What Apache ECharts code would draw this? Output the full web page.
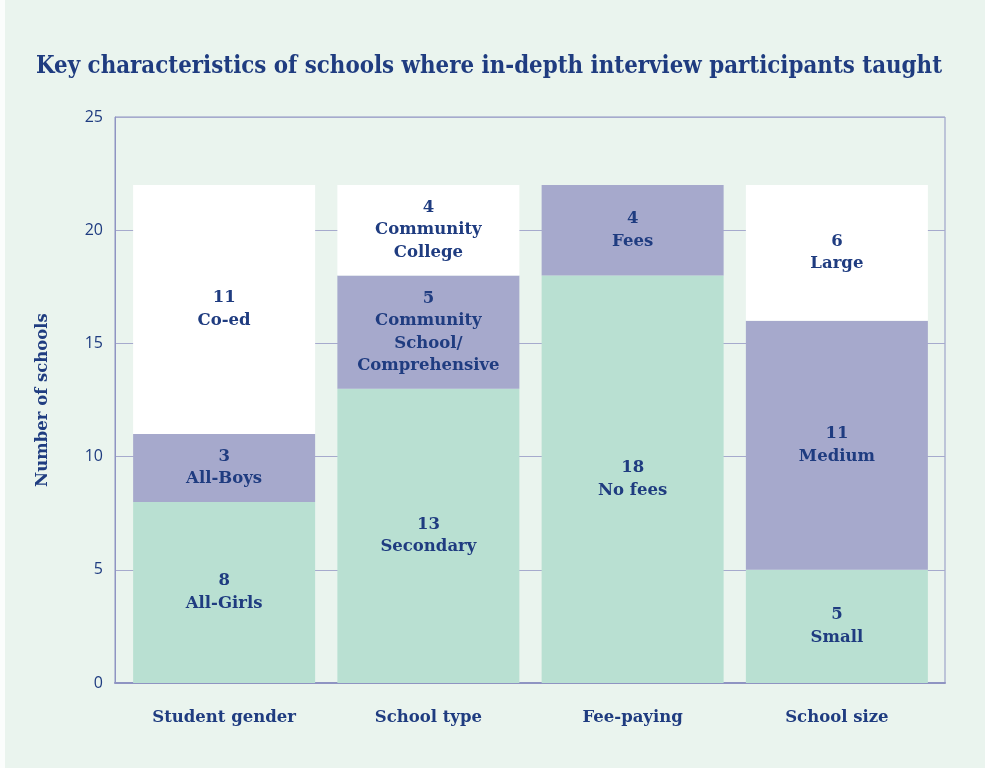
<!DOCTYPE html>
<html>
<head>
    <meta charset="utf-8"/>
    <title>Key characteristics of schools</title>
    <script src="https://cdn.jsdelivr.net/npm/echarts@6/dist/echarts.min.js"></script>
    <style>
        html, body { margin: 0; padding: 0; background: #fbfdfc; }
        #myChart { position: absolute; left: 5px; top: 0; width: 980px; height: 768px; background: #eaf4ee; }
    </style>
</head>
<body>
<div id="myChart"></div>
<script>
    // 数据
    var categories = ['Student gender', 'School type', 'Fee-paying', 'School size'];
    var bottomValues = [8, 13, 18, 5];
    var bottomNames = ['All-Girls', 'Secondary', 'No fees', 'Small'];
    var middleValues = [3, 5, 4, 11];
    var middleNames = ['All-Boys', 'Community\nSchool/\nComprehensive', 'Fees', 'Medium'];
    var topValues = [11, 4, null, 6];
    var topNames = ['Co-ed', 'Community\nCollege', '', 'Large'];
    var yTicks = [0, 5, 10, 15, 20, 25];

    var navy = '#1f3c80';
    var slab = '"DejaVu Serif", serif';
    var slabNarrow = '"DejaVu Serif Condensed", "DejaVu Serif", serif';
    var frameColor = '#8f94c2';

    var makeSeries = function (values, names, color) {
        return {
            type: 'bar',
            stack: 'total',
            xAxisIndex: 1,
            yAxisIndex: 1,
            barWidth: 182,
            itemStyle: { color: color },
            label: {
                show: true,
                position: 'inside',
                color: navy,
                fontFamily: slab,
                fontWeight: 'bold',
                fontSize: 16.5,
                lineHeight: 22.5,
                formatter: function (p) {
                    return p.value + '\n' + names[p.dataIndex];
                }
            },
            data: values
        };
    };

    var myChart = echarts.init(document.getElementById('myChart'));
    var option = {
        animation: false,
        title: {
            text: 'Key characteristics of schools where in-depth interview participants taught',
            left: 26,
            top: 50,
            textStyle: {
                color: navy,
                fontFamily: slabNarrow,
                fontWeight: 'bold',
                fontSize: 23.8
            }
        },
        // grid 0: 外框和网格线, grid 1: 柱子
        grid: [{
            left: 110,
            right: 40,
            top: 117,
            bottom: 85,
            show: true,
            borderColor: frameColor,
            borderWidth: 1
        }, {
            left: 117,
            right: 46,
            top: 117,
            bottom: 85
        }],
        xAxis: [{
            gridIndex: 0,
            type: 'value',
            min: 0,
            max: 1,
            axisLine: { show: true, lineStyle: { color: frameColor, width: 2 } },
            axisTick: { show: false },
            axisLabel: { show: false },
            splitLine: { show: false }
        }, {
            gridIndex: 1,
            type: 'category',
            data: categories,
            axisTick: { show: false },
            axisLine: { show: false },
            axisLabel: {
                margin: 26,
                color: navy,
                fontFamily: slab,
                fontWeight: 'bold',
                fontSize: 16.5
            }
        }],
        yAxis: [{
            gridIndex: 0,
            type: 'value',
            min: yTicks[0],
            max: yTicks[yTicks.length - 1],
            interval: 5,
            name: 'Number of schools',
            nameLocation: 'middle',
            nameGap: 64,
            nameTextStyle: {
                color: navy,
                fontFamily: slab,
                fontWeight: 'bold',
                fontSize: 16.5
            },
            axisLine: { show: true, lineStyle: { color: frameColor } },
            axisTick: { show: false },
            axisLabel: {
                margin: 12,
                color: navy,
                fontFamily: '"Open Sans", sans-serif',
                fontSize: 16
            },
            splitLine: { lineStyle: { color: '#a6aacd', width: 1 } }
        }, {
            gridIndex: 1,
            type: 'value',
            min: yTicks[0],
            max: yTicks[yTicks.length - 1],
            show: false
        }],
        series: [
            makeSeries(bottomValues, bottomNames, '#b9e0d2'),
            makeSeries(middleValues, middleNames, '#a6a9cc'),
            makeSeries(topValues, topNames, '#ffffff')
        ]
    };
    myChart.setOption(option);
</script>
</body>
</html>
